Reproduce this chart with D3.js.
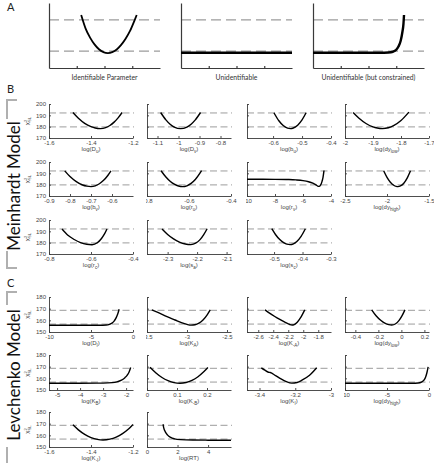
<!DOCTYPE html>
<html>
<head>
<meta charset="utf-8">
<script src="https://cdn.jsdelivr.net/npm/d3@7"></script>
<style>
body { margin: 0; background: #fff; }
svg { display: block; font-family: "Liberation Sans", Arial, sans-serif; }
</style>
</head>
<body>
<svg id="fig" width="434" height="463"></svg>
<script>
// ---- panel A : schematic profiles ----
var sketchNames = ['Identifiable Parameter', 'Unidentifiable', 'Unidentifiable (but constrained)'];
var sketchTicks = [0.25, 0.5, 0.75];
var sketchLevels = [0.26, 0.74];
var sketchX = [
    [0.29, 0.33, 0.37, 0.41, 0.45, 0.49, 0.53, 0.57, 0.61, 0.65, 0.69, 0.73, 0.77, 0.79],
    [0, 1],
    [0, 0.6, 0.68, 0.72, 0.75, 0.77, 0.79, 0.805, 0.815, 0.82]
];
var sketchY = [
    [0.815, 0.606, 0.468, 0.364, 0.289, 0.245, 0.23, 0.244, 0.285, 0.355, 0.45, 0.57, 0.73, 0.815],
    [0.235, 0.235],
    [0.235, 0.235, 0.238, 0.25, 0.28, 0.33, 0.42, 0.55, 0.68, 0.815]
];

// ---- panel B : Meinhardt model profiles ----
var meinNames = [['D','u'], ['D','v'], ['b','u'], ['dy','low'], ['b','v'], ['r','u'], ['r','v'], ['dy','high'], ['r','c'], ['s','a'], ['s','c']];
var meinDomains = [[-1.6,-1.2], [-1.15,-0.75], [-0.69,-0.4], [-2,-1.7], [-0.9,-0.5], [-0.8,-0.4], [-10,-4], [-2.5,-1.5], [-0.8,-0.4], [-2.37,-2.085], [-0.595,-0.3]];
var meinTicks = [[-1.6,-1.4,-1.2], [-1.1,-1,-0.9,-0.8], [-0.6,-0.5,-0.4], [-2,-1.9,-1.8,-1.7], [-0.9,-0.8,-0.7,-0.6], [-0.8,-0.6,-0.4], [-10,-8,-6,-4], [-2.5,-2,-1.5], [-0.8,-0.6,-0.4], [-2.3,-2.2,-2.1], [-0.5,-0.4,-0.3]];
var meinYRange = [170, 200];
var meinYTicks = [170, 180, 190, 200];
var meinLevels = [179.8, 192.1];
var meinX = [
    [-1.486, -1.46, -1.43, -1.40, -1.38, -1.355, -1.33, -1.31, -1.29, -1.27, -1.252],
    [-1.085, -1.06, -1.04, -1.02, -0.99, -0.96, -0.94, -0.92, -0.895],
    [-0.597, -0.58, -0.565, -0.55, -0.54, -0.53, -0.515, -0.5, -0.486],
    [-1.971, -1.95, -1.925, -1.9, -1.885, -1.866, -1.845, -1.825, -1.8, -1.772],
    [-0.825, -0.8, -0.77, -0.74, -0.72, -0.70, -0.68, -0.66, -0.64, -0.62, -0.605],
    [-0.733, -0.71, -0.69, -0.67, -0.65, -0.63, -0.61, -0.59, -0.57, -0.54],
    [-10, -8, -7, -6.5, -6, -5.6, -5.3, -5.1, -4.95, -4.85, -4.75, -4.65, -4.57, -4.5],
    [-2.04, -2.0, -1.96, -1.92, -1.89, -1.87, -1.84, -1.8, -1.76, -1.72],
    [-0.738, -0.71, -0.68, -0.65, -0.62, -0.595, -0.57, -0.55, -0.535, -0.524],
    [-2.319, -2.3, -2.28, -2.26, -2.24, -2.221, -2.205, -2.19, -2.178, -2.166],
    [-0.508, -0.495, -0.48, -0.465, -0.455, -0.444, -0.432, -0.42, -0.405, -0.39]
];
var meinY = [
    [192.5, 187.4, 182.9, 180.0, 178.8, 178.3, 179.1, 181.0, 184.0, 188.0, 192.5],
    [192.5, 186.0, 182.2, 179.7, 178.3, 179.7, 182.2, 186.0, 192.5],
    [192.3, 185.2, 181.0, 178.7, 178.3, 178.8, 181.3, 186.0, 192.3],
    [192.5, 187.4, 182.8, 179.8, 178.8, 178.3, 179.0, 181.1, 185.4, 192.8],
    [192.2, 187.2, 182.7, 179.7, 178.7, 178.3, 178.9, 180.8, 183.8, 188.1, 192.2],
    [192.3, 186.7, 183.0, 180.4, 178.8, 178.3, 179.0, 181.1, 184.5, 192.3],
    [184.8, 184.7, 184.5, 184.2, 183.6, 182.6, 181.3, 180.0, 178.8, 178.5, 179.6, 182.5, 186.5, 192.5],
    [192.3, 186.5, 182.2, 179.5, 178.5, 178.3, 178.9, 181.3, 185.8, 192.3],
    [192.0, 186.5, 182.8, 180.1, 178.6, 178.2, 179.9, 183.7, 187.9, 192.0],
    [192.0, 187.2, 183.3, 180.5, 178.8, 178.3, 179.5, 182.7, 186.9, 192.3],
    [192.3, 187.2, 182.7, 179.8, 178.7, 178.3, 179.0, 181.1, 185.6, 192.3]
];

// ---- panel C : Levchenko model profiles ----
var levNames = [['D','I'], ['K','A'], ['K','-A'], ['dy','low'], ['K','B'], ['K','-B'], ['K','I'], ['dy','high'], ['K','-I'], ['RT','']];
var levDomains = [[-10,0], [-3.5,-2.45], [-2.75,-1.63], [-0.49,0.24], [-5.35,-1.7], [0,0.28], [-3.47,-3], [-10,0], [-1.6,-1.2], [0,5.5]];
var levTicks = [[-10,-5,0], [-3.5,-3,-2.5], [-2.6,-2.4,-2.2,-2,-1.8], [-0.4,-0.2,0,0.2], [-5,-4,-3,-2], [0,0.1,0.2], [-3.4,-3.2,-3], [-10,-5,0], [-1.6,-1.4,-1.2], [0,2,4]];
var levYRange = [150, 180];
var levYTicks = [150, 160, 170, 180];
var levLevels = [156.8, 168.6];
var levX = [
    [-10, -6, -4, -3.2, -2.8, -2.5, -2.25, -2.0, -1.8, -1.65],
    [-3.44, -3.35, -3.25, -3.15, -3.07, -3.0, -2.95, -2.9, -2.85, -2.8, -2.75, -2.71],
    [-2.51, -2.45, -2.38, -2.3, -2.24, -2.18, -2.15, -2.12, -2.08, -2.04, -1.98],
    [-0.258, -0.22, -0.18, -0.14, -0.11, -0.084, -0.05, -0.02, 0.005, 0.031],
    [-5.35, -4, -3, -2.6, -2.4, -2.2, -2.05, -1.95, -1.87, -1.8],
    [0.01, 0.03, 0.05, 0.07, 0.09, 0.11, 0.13, 0.15, 0.17, 0.19, 0.203],
    [-3.39, -3.37, -3.35, -3.34, -3.31, -3.28, -3.25, -3.22, -3.19, -3.16, -3.12, -3.08],
    [-10, -5, -2, -1.3, -0.9, -0.6, -0.4, -0.25, -0.1],
    [-1.486, -1.46, -1.43, -1.4, -1.37, -1.343, -1.31, -1.28, -1.25, -1.22, -1.2],
    [1.05, 1.1, 1.2, 1.35, 1.55, 1.8, 2.2, 3, 4, 5.5]
];
var levY = [
    [155.8, 155.8, 155.8, 156.0, 156.6, 157.6, 159.3, 162.3, 165.8, 169.5],
    [169.0, 166.3, 163.2, 160.3, 158.0, 156.5, 155.9, 156.2, 157.6, 160.3, 164.5, 169.0],
    [169.0, 166.2, 163.3, 160.3, 158.2, 156.4, 156.0, 156.4, 158.3, 161.8, 169.0],
    [169.0, 163.9, 160.0, 157.3, 156.3, 156.0, 157.1, 160.0, 163.8, 169.0],
    [155.8, 155.8, 155.9, 156.3, 157.0, 158.5, 160.6, 162.8, 165.5, 169.3],
    [169.5, 164.6, 160.7, 158.0, 156.3, 155.8, 156.4, 158.3, 161.4, 165.8, 169.3],
    [169.0, 167.0, 165.2, 165.0, 162.3, 159.5, 157.2, 155.9, 156.4, 158.6, 162.6, 169.0],
    [155.8, 155.8, 155.8, 156.0, 156.8, 158.5, 161.2, 164.8, 169.8],
    [169.0, 164.7, 160.8, 158.1, 156.5, 156.0, 156.7, 158.5, 161.5, 165.6, 169.3],
    [169.5, 166.2, 163.0, 160.2, 158.2, 157.0, 156.3, 155.95, 155.85, 155.8]
];

var svg = d3.select('#fig');
var axisCol = '#3a3a3a';
var dashCol = '#9c9c9c';
var fmt = function(d) { return String(Math.round(d * 1000) / 1000); };

// ---------- panel A ----------
var sketchLeft = [49, 181, 313];
var sketchW = 111;
var sx = d3.scaleLinear().domain([0, 1]).range([0, sketchW]);
var sy = d3.scaleLinear().domain([0, 1]).range([68, 3]);

sketchNames.forEach(function(name, i) {
    var g = svg.append('g').attr('transform', 'translate(' + sketchLeft[i] + ',0)');
    g.selectAll('.lvl').data(sketchLevels).enter().append('line')
        .attr('x1', 0).attr('x2', sketchW)
        .attr('y1', sy).attr('y2', sy)
        .attr('stroke', dashCol).attr('stroke-width', 1.3)
        .attr('stroke-dasharray', '10,5');
    g.append('g')
        .attr('transform', 'translate(0,' + sy(0) + ')')
        .call(d3.axisBottom(sx).tickValues(sketchTicks).tickSize(-2).tickSizeOuter(0).tickFormat(''))
        .call(function(a) { a.selectAll('path,line').attr('stroke', axisCol).attr('stroke-width', 1.2); });
    g.append('g')
        .call(d3.axisLeft(sy).tickValues([]).tickSizeOuter(0))
        .call(function(a) { a.select('path').attr('stroke', axisCol).attr('stroke-width', 1.2); });
    var pts = sketchX[i].map(function(v, k) { return [v, sketchY[i][k]]; });
    g.append('path')
        .attr('d', d3.line().x(function(d) { return sx(d[0]); }).y(function(d) { return sy(d[1]); })
            .curve(d3.curveMonotoneX)(pts))
        .attr('fill', 'none').attr('stroke', '#000')
        .attr('stroke-width', i === 0 ? 1.8 : 2.4);
    g.append('text')
        .attr('x', sketchW / 2).attr('y', 79.5)
        .attr('text-anchor', 'middle')
        .style('font-family', 'Lato, "Open Sans", sans-serif')
        .style('font-size', '6.8px').attr('fill', '#333')
        .text(name);
});

// ---------- panel B / C grid ----------
var colLeft = [49, 147, 247, 345];
var plotW = 84;
var clipCount = 0;

function drawPanel(x0, y0, h, dom, ticks, yRange, yTicks, levels, xs, ys, name, firstCol, cut) {
    var x = d3.scaleLinear().domain(dom).range([0, plotW]);
    var y = d3.scaleLinear().domain(yRange).range([h, 0]);
    var g = svg.append('g').attr('transform', 'translate(' + x0 + ',' + y0 + ')');

    g.selectAll('.lvl').data(levels).enter().append('line')
        .attr('x1', 0).attr('x2', plotW + 1)
        .attr('y1', y).attr('y2', y)
        .attr('stroke', dashCol).attr('stroke-width', 1)
        .attr('stroke-dasharray', '7,3.5');

    var xa = g.append('g')
        .attr('transform', 'translate(0,' + h + ')')
        .call(d3.axisBottom(x).tickValues(ticks).tickSize(-2).tickPadding(2.5).tickSizeOuter(0).tickFormat(fmt));
    xa.selectAll('path,line').attr('stroke', axisCol).attr('stroke-width', 0.9);
    xa.selectAll('text').attr('fill', '#444').style('font-size', '6px');
    if (cut) {
        // the left-most tick label is partly hidden, as in the source figure
        var id = 'cut' + (clipCount++);
        xa.append('clipPath').attr('id', id).append('rect')
            .attr('x', -1.6).attr('y', 0).attr('width', plotW + 30).attr('height', 20);
        xa.selectAll('.tick').filter(function(d) { return x(d) < 1; })
            .select('text').attr('clip-path', 'url(#' + id + ')');
    }

    var ya = g.append('g')
        .call(d3.axisLeft(y).tickValues(yTicks).tickSize(-2).tickPadding(3).tickSizeOuter(0)
            .tickFormat(firstCol ? fmt : ''));
    ya.selectAll('path,line').attr('stroke', axisCol).attr('stroke-width', 0.9);
    ya.selectAll('text').attr('fill', '#444').style('font-size', '6px');

    var pts = xs.map(function(v, k) { return [v, ys[k]]; });
    g.append('path')
        .attr('d', d3.line().x(function(d) { return x(d[0]); }).y(function(d) { return y(d[1]); })
            .curve(d3.curveMonotoneX)(pts))
        .attr('fill', 'none').attr('stroke', '#000').attr('stroke-width', 1.4);

    var lab = g.append('text')
        .attr('x', plotW / 2).attr('y', h + 13)
        .attr('text-anchor', 'middle')
        .style('font-size', '6px').attr('fill', '#444');
    lab.append('tspan').text('log(' + name[0]);
    if (name[1]) {
        lab.append('tspan').attr('dy', 1.6).style('font-size', '4.5px').text(name[1]);
        lab.append('tspan').attr('dy', -1.6).text(')');
    } else {
        lab.append('tspan').text(')');
    }

    if (firstCol) {
        var yl = g.append('text')
            .attr('transform', 'translate(-20,' + (h / 2) + ') rotate(-90)')
            .attr('text-anchor', 'middle')
            .style('font-size', '6px').attr('fill', '#444');
        yl.append('tspan').text('\u03c7');
        yl.append('tspan').attr('dy', -2).style('font-size', '4.2px').text('2');
        yl.append('tspan').attr('dx', -2.3).attr('dy', 3.6).style('font-size', '4.2px').text('SL');
    }
}

var meinTop = [104, 162, 220];
var meinCut = [5, 6];
meinNames.forEach(function(name, i) {
    var c = i % 4, r = Math.floor(i / 4);
    drawPanel(colLeft[c], meinTop[r], 34, meinDomains[i], meinTicks[i], meinYRange, meinYTicks,
        meinLevels, meinX[i], meinY[i], name, c === 0, meinCut.indexOf(i) >= 0);
});

var levTop = [297, 355, 412];
var levCut = [1, 7];
levNames.forEach(function(name, i) {
    var c = i % 4, r = Math.floor(i / 4);
    drawPanel(colLeft[c], levTop[r], 35, levDomains[i], levTicks[i], levYRange, levYTicks,
        levLevels, levX[i], levY[i], name, c === 0, levCut.indexOf(i) >= 0);
});

// ---------- panel letters and model names ----------
var letters = [['A', 11], ['B', 93], ['C', 287]];
svg.selectAll('.letter').data(letters).enter().append('text')
    .attr('x', 7).attr('y', function(d) { return d[1]; })
    .style('font-family', 'Lato, "Open Sans", sans-serif')
    .style('font-size', '11px').attr('fill', '#222')
    .text(function(d) { return d[0]; });

// name, text centre, bracket top, bracket bottom, end of top arm, start of bottom arm
var models = [['Meinhardt Model', 186, 100, 268, 119, 251], ['Levchenko Model', 375, 292, 470, 305, 447]];
models.forEach(function(m) {
    svg.append('text')
        .attr('transform', 'translate(20,' + m[1] + ') rotate(-90)')
        .attr('text-anchor', 'middle')
        .style('font-family', 'Lato, "Open Sans", sans-serif')
        .style('font-size', '17px').attr('fill', '#111')
        .text(m[0]);
    var br = svg.append('g').attr('stroke', '#b0b0b0').attr('stroke-width', 2).attr('fill', 'none');
    br.append('path').attr('d', 'M17,' + m[2] + 'H7V' + m[4]);
    br.append('path').attr('d', 'M7,' + m[5] + 'V' + m[3] + 'H17');
});
</script>
</body>
</html>
